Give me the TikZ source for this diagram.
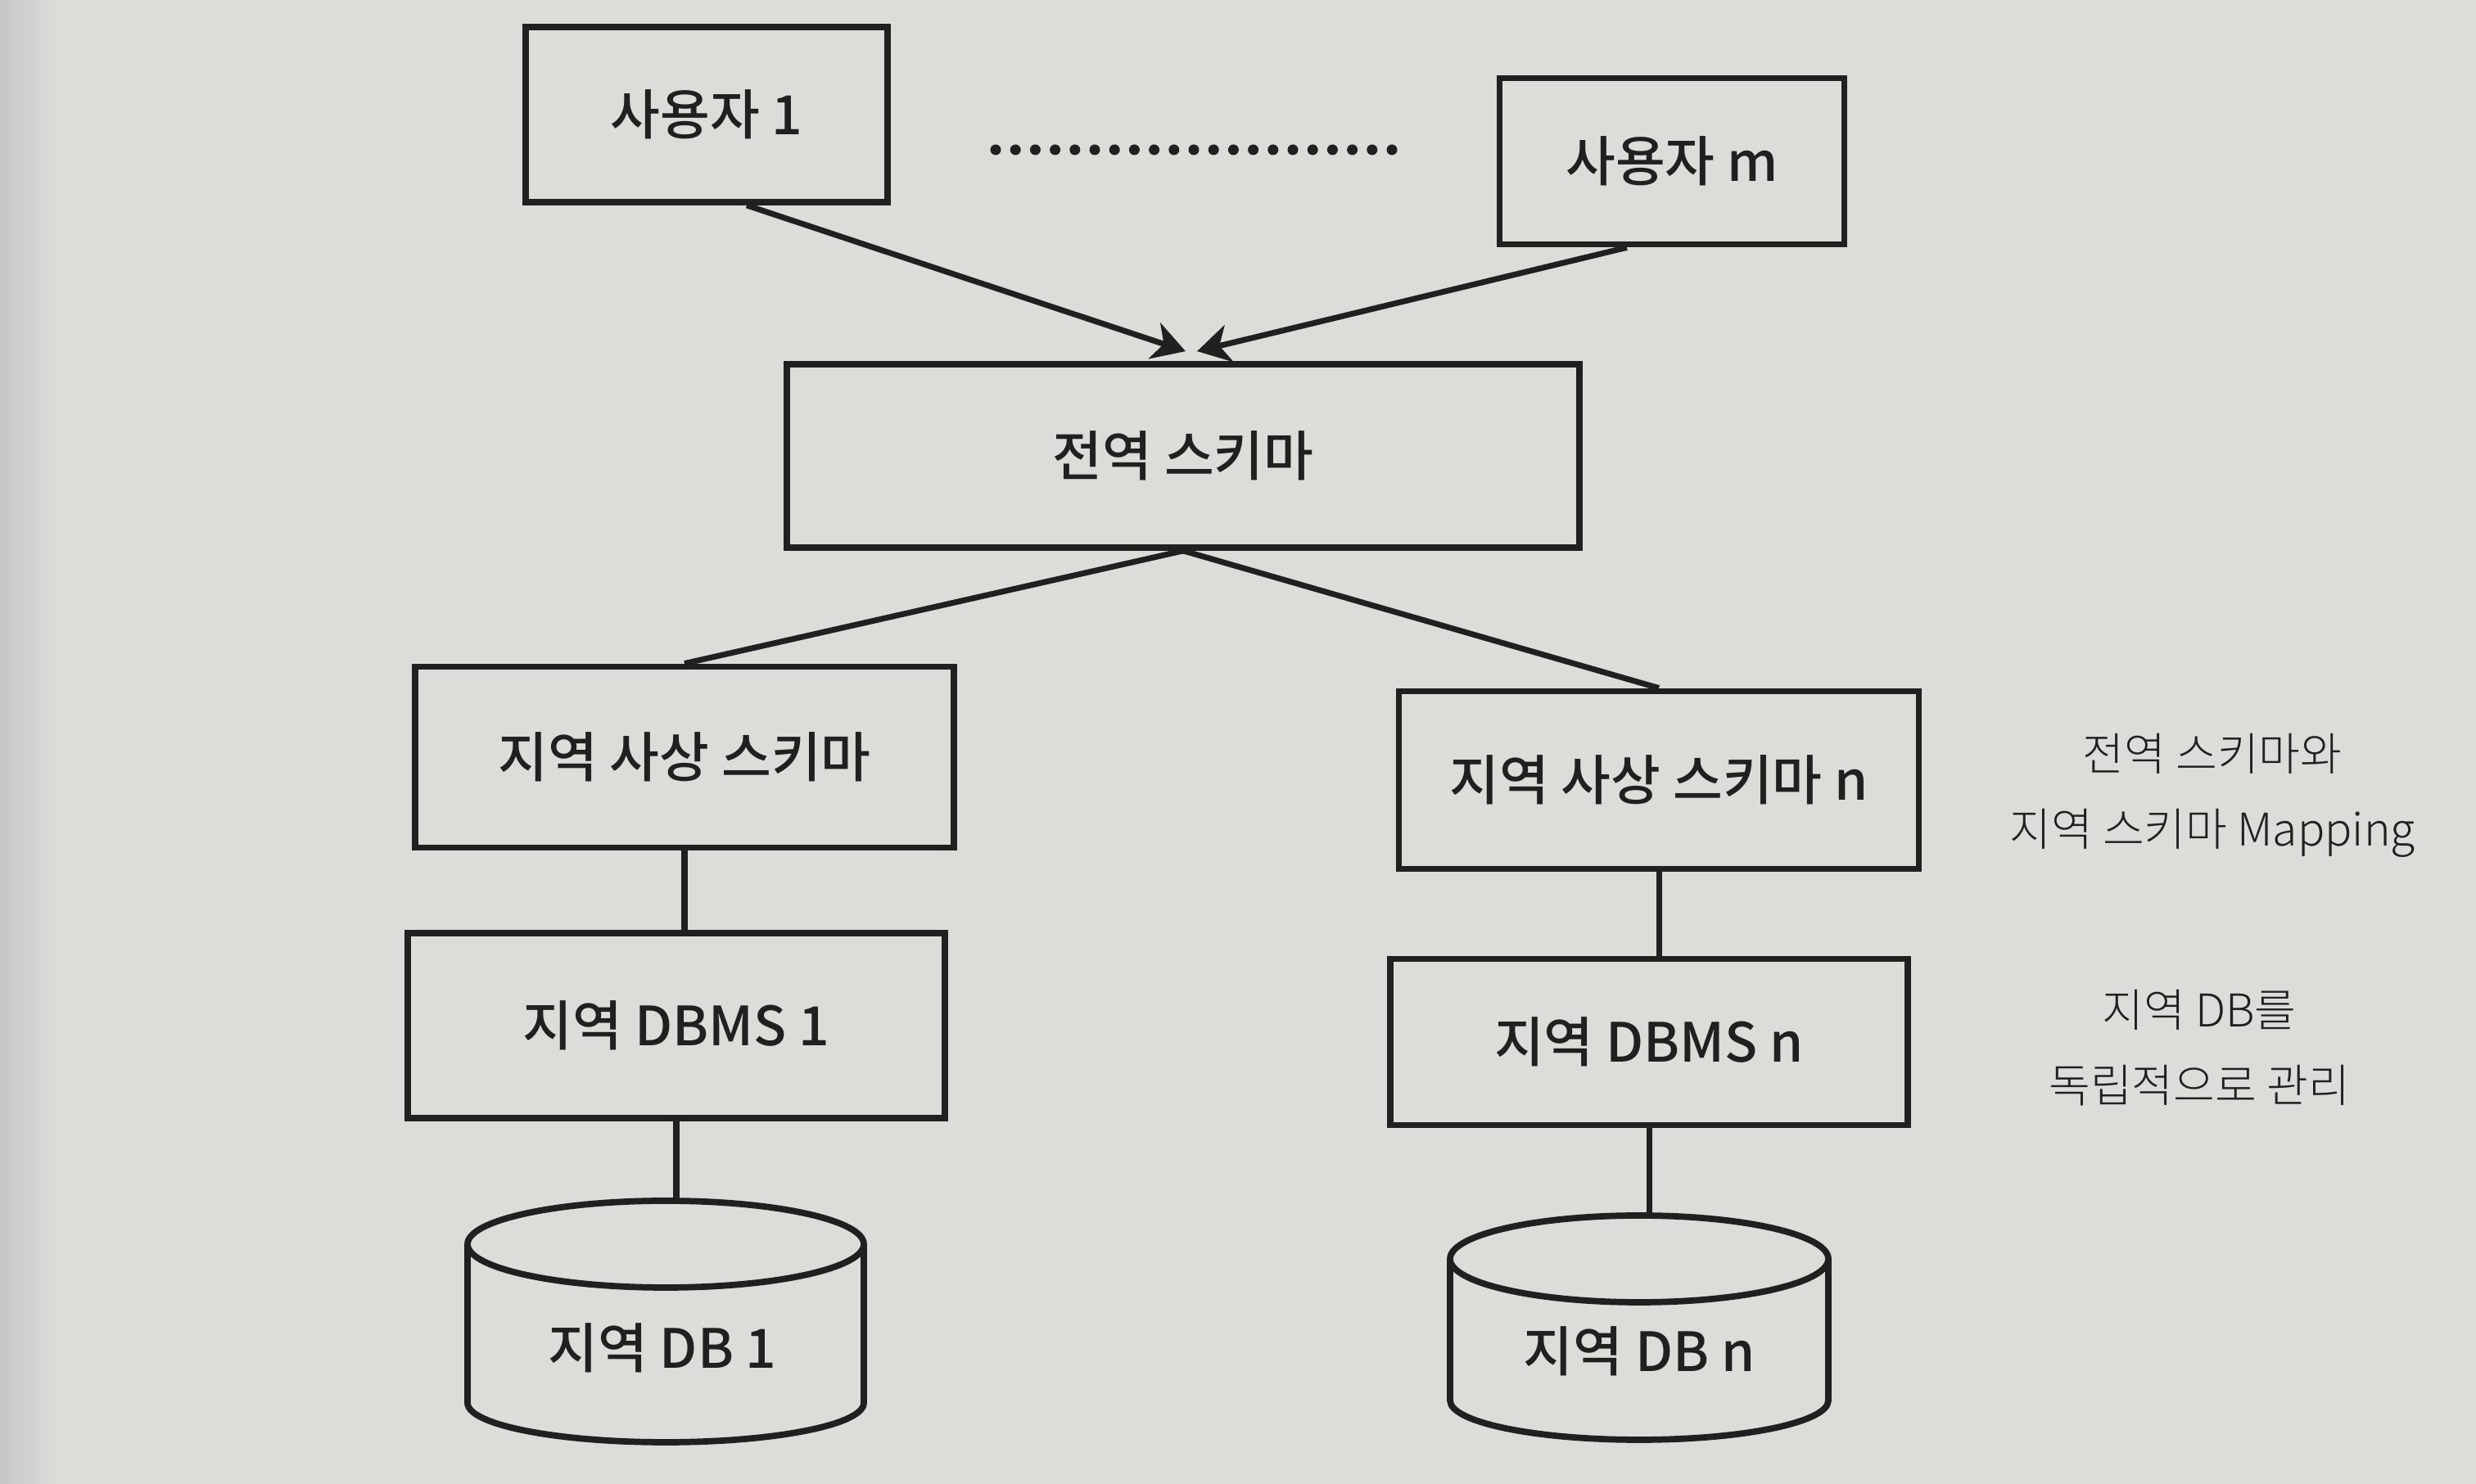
\documentclass[tikz,border=0pt]{standalone}
\usepackage{fontspec}
\setmainfont{Noto Sans CJK KR}
\newfontfamily\krmed{Noto Sans CJK KR Medium}
\newfontfamily\krlight{Noto Sans CJK KR Light}
\usetikzlibrary{arrows.meta}
\usepackage{xcolor}

\definecolor{paper}{RGB}{220,221,217}
\definecolor{ink}{RGB}{32,32,32}

\tikzset{
  schemabox/.style={draw=ink, line width=2.2pt, inner sep=0pt, text=ink,
    font=\krmed\fontsize{18.8}{22}\selectfont},
  dbline/.style={draw=ink, line width=2.2pt},
  dbtext/.style={text=ink, font=\krmed\fontsize{18.8}{22}\selectfont},
  note/.style={align=center, text=ink, font=\krlight\fontsize{15.7}{26}\selectfont},
  link/.style={draw=ink, line width=2pt},
  arr/.style={link, -{Stealth[length=0.4cm, width=0.46cm, inset=0.12cm]}}
}

\begin{document}
\begin{tikzpicture}
        \useasboundingbox (0,0) rectangle (30.24,18.13);
        \fill[paper] (0,0) rectangle (30.24,18.13);
        \shade[left color=black!22, right color=paper] (0,0) rectangle (0.7,18.13);

        % users
        \node[schemabox, minimum width=4.42cm, minimum height=2.14cm] (user1) at (8.63,16.73) {사용자 1};
        \node[schemabox, minimum width=4.21cm, minimum height=2.03cm] (userm) at (20.42,16.16) {사용자 m};
        \foreach \i in {0,...,20}
          \fill[ink] (12.16+\i*0.242,16.30) circle (0.065);

        % global schema
        \node[schemabox, minimum width=9.68cm, minimum height=2.24cm] (global) at (14.45,12.56) {전역 스키마};
        \draw[arr] ([xshift=0.49cm]user1.south) -- ([xshift=0.03cm,yshift=0.12cm]global.north);
        \draw[arr] ([xshift=-0.55cm]userm.south) -- ([xshift=0.17cm,yshift=0.12cm]global.north);

        % local mapping schemas
        \node[schemabox, minimum width=6.58cm, minimum height=2.21cm] (map1) at (8.36,8.88) {지역 사상 스키마};
        \node[schemabox, minimum width=6.35cm, minimum height=2.17cm] (mapn) at (20.26,8.60) {지역 사상 스키마 n};
        \draw[link] (global.south) -- (map1.north);
        \draw[link] (global.south) -- (mapn.north);

        % local DBMS
        \node[schemabox, minimum width=6.56cm, minimum height=2.26cm] (dbms1) at (8.26,5.60) {지역 DBMS 1};
        \node[schemabox, minimum width=6.32cm, minimum height=2.03cm] (dbmsn) at (20.14,5.40) {지역 DBMS n};
        \draw[link] (map1.south) -- (map1.south |- dbms1.north);
        \draw[link] (mapn.south) -- (mapn.south |- dbmsn.north);

        % local DB drums: name/x/top/bottom/radius
        \foreach \n/\x/\t/\b/\r in {db1/8.13/3.46/0.51/2.42, dbn/20.02/3.28/0.54/2.31} {
          \coordinate (\n) at (\x,\t);
          \draw[dbline] (\x,\t-0.53) ellipse ({\r} and 0.53);
          \draw[dbline] (\x-\r,\t-0.53) -- (\x-\r,\b+0.48)
            arc[start angle=180, end angle=360, x radius=\r, y radius=0.48] -- (\x+\r,\t-0.53);
        }
        \node[dbtext] (db1text) at (8.09,1.66) {지역 DB 1};
        \node[dbtext] (dbntext) at (20.02,1.62) {지역 DB n};
        \draw[link] (dbms1.south) -- (dbms1.south |- db1);
        \draw[link] (dbmsn.south) -- (dbmsn.south |- dbn);

        % notes
        \node[note] (note1) at (27.02,8.41) {전역 스키마와\\지역 스키마 Mapping};
        \node[note] (note2) at (26.86,5.33) {지역 DB를\\독립적으로 관리};
      \end{tikzpicture}
\end{document}
